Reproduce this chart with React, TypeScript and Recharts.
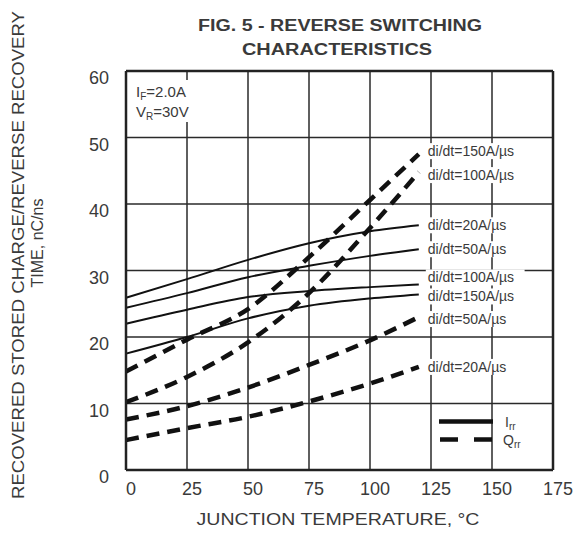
import React from 'react';
import { LineChart, Line, XAxis, YAxis, CartesianGrid } from 'recharts';

document.body.style.margin = '0';

const temps = [0, 25, 50, 75, 100, 120];
const xTicks = [0, 25, 50, 75, 100, 125, 150, 175];
const yTicks = [0, 10, 20, 30, 40, 50, 60];

// trr (solid) curves, ns
const trr20 = [25.9, 28.7, 31.6, 34.1, 35.9, 36.8];
const trr50 = [24.4, 26.6, 29.0, 30.7, 32.2, 33.2];
const trr100 = [22.0, 24.1, 26.0, 26.9, 27.5, 27.9];
const trr150 = [17.5, 20.0, 22.8, 24.7, 25.8, 26.4];
// Qrr (dashed) curves, nC
const qrr150 = [14.8, 19.6, 24.2, 32.0, 40.6, 47.5];
const qrr100 = [10.2, 14.0, 19.2, 26.6, 36.4, 44.8];
const qrr50 = [7.6, 9.6, 12.4, 15.8, 19.5, 23.0];
const qrr20 = [4.5, 6.3, 8.0, 10.3, 13.0, 15.5];

const data = temps.map((t, i) => ({
  t,
  trr20: trr20[i],
  trr50: trr50[i],
  trr100: trr100[i],
  trr150: trr150[i],
  qrr150: qrr150[i],
  qrr100: qrr100[i],
  qrr50: qrr50[i],
  qrr20: qrr20[i],
}));

const series = [
  { key: 'trr20', text: 'di/dt=20A/µs', dashed: false, dy: 0 },
  { key: 'trr50', text: 'di/dt=50A/µs', dashed: false, dy: 0 },
  { key: 'trr100', text: 'di/dt=100A/µs', dashed: false, dy: -7 },
  { key: 'trr150', text: 'di/dt=150A/µs', dashed: false, dy: 2 },
  { key: 'qrr150', text: 'di/dt=150A/µs', dashed: true, dy: -3 },
  { key: 'qrr100', text: 'di/dt=100A/µs', dashed: true, dy: 3 },
  { key: 'qrr50', text: 'di/dt=50A/µs', dashed: true, dy: 2 },
  { key: 'qrr20', text: 'di/dt=20A/µs', dashed: true, dy: 0 },
];

const FONT = '"Liberation Sans", Arial, sans-serif';
const INK = '#111';
const TEXT = '#3a3a3a';

const endLabel = (text: string, dy: number) => (props: any) => {
  const { x, y, index } = props;
  if (index !== temps.length - 1) return <g key={`l${index}`} />;
  const w = text.length * 7.6;
  return (
    <g key={`l${index}`}>
      <rect x={x + 7} y={y + dy - 8} width={w} height={16} fill="#fff" />
      <text x={x + 9} y={y + dy + 5} fontSize={14} fontFamily={FONT} fill={TEXT}>
        {text}
      </text>
    </g>
  );
};

const XTick = (props: any) => {
  const { x, y, payload } = props;
  return (
    <text x={x + 5} y={y + 17} textAnchor="middle" fontSize={18} fontFamily={FONT} fill={TEXT}>
      {payload.value}
    </text>
  );
};

const YTick = (props: any) => {
  const { x, y, payload } = props;
  return (
    <text x={x} y={y + 13} textAnchor="end" fontSize={18} fontFamily={FONT} fill={TEXT}>
      {payload.value}
    </text>
  );
};

export default function App() {
  return (
    <div style={{ position: 'relative', width: 575, height: 534, background: '#fff' }}>
      <LineChart
        width={575}
        height={534}
        data={data}
        margin={{ top: 71, right: 22, bottom: 34, left: 86 }}
      >
        <CartesianGrid stroke="#2a2a2a" strokeWidth={1.5} horizontalValues={yTicks} verticalValues={xTicks} />
        <XAxis
          dataKey="t"
          type="number"
          domain={[0, 175]}
          ticks={xTicks}
          height={30}
          tick={<XTick />}
          tickLine={false}
          axisLine={{ stroke: '#222', strokeWidth: 2.5 }}
        />
        <YAxis
          type="number"
          domain={[0, 60]}
          ticks={yTicks}
          width={40}
          tick={<YTick />}
          tickLine={false}
          tickMargin={11}
          axisLine={{ stroke: '#222', strokeWidth: 2.5 }}
        />
        {series.map((s) => (
          <Line
            key={s.key}
            dataKey={s.key}
            type="monotone"
            stroke={INK}
            strokeWidth={s.dashed ? 4.5 : 2}
            strokeDasharray={s.dashed ? '13 8' : undefined}
            dot={false}
            activeDot={false}
            isAnimationActive={false}
            label={endLabel(s.text, s.dy)}
          />
        ))}
      </LineChart>
      <svg
        width={575}
        height={534}
        style={{ position: 'absolute', left: 0, top: 0, pointerEvents: 'none' }}
        fontFamily={FONT}
      >
        {/* plot border top/right */}
        <line x1={126} y1={71} x2={553} y2={71} stroke="#222" strokeWidth={2.5} />
        <line x1={553} y1={71} x2={553} y2={470} stroke="#222" strokeWidth={2.5} />
        <text x={340} y={31} textAnchor="middle" fontSize={16} fontWeight="bold" fill={TEXT}
          textLength={284} lengthAdjust="spacingAndGlyphs">
          FIG. 5 - REVERSE SWITCHING
        </text>
        <text x={337} y={55} textAnchor="middle" fontSize={16} fontWeight="bold" fill={TEXT}
          textLength={190} lengthAdjust="spacingAndGlyphs">
          CHARACTERISTICS
        </text>
        <text
          transform="translate(24,255) rotate(-90)"
          textAnchor="middle"
          fontSize={17}
          fill={TEXT}
          textLength={488}
          lengthAdjust="spacingAndGlyphs"
        >
          RECOVERED STORED CHARGE/REVERSE RECOVERY
        </text>
        <text
          transform="translate(43,243) rotate(-90)"
          textAnchor="middle"
          fontSize={16}
          fill={TEXT}
        >
          TIME, nC/ns
        </text>
        <text x={338} y={525} textAnchor="middle" fontSize={17} fill={TEXT}
          textLength={283} lengthAdjust="spacingAndGlyphs">
          JUNCTION TEMPERATURE, °C
        </text>
        <rect x={134} y={80} width={62} height={42} fill="#fff" />
        <text x={136} y={97} fontSize={15} fill={TEXT}>
          I<tspan fontSize={10} dy={3}>F</tspan>
          <tspan dy={-3}>=2.0A</tspan>
        </text>
        <text x={136} y={117} fontSize={15} fill={TEXT}>
          V<tspan fontSize={10} dy={3}>R</tspan>
          <tspan dy={-3}>=30V</tspan>
        </text>
        <line x1={439} y1={421.5} x2={493} y2={421.5} stroke={INK} strokeWidth={4.5} />
        <line x1={440} y1={439.5} x2={493} y2={439.5} stroke={INK} strokeWidth={4.5} strokeDasharray="18 16" />
        <text x={505} y={427} fontSize={14} fill={TEXT}>
          I<tspan fontSize={10} dy={3}>rr</tspan>
        </text>
        <text x={503} y={445} fontSize={14} fill={TEXT}>
          Q<tspan fontSize={10} dy={3}>rr</tspan>
        </text>
      </svg>
    </div>
  );
}
